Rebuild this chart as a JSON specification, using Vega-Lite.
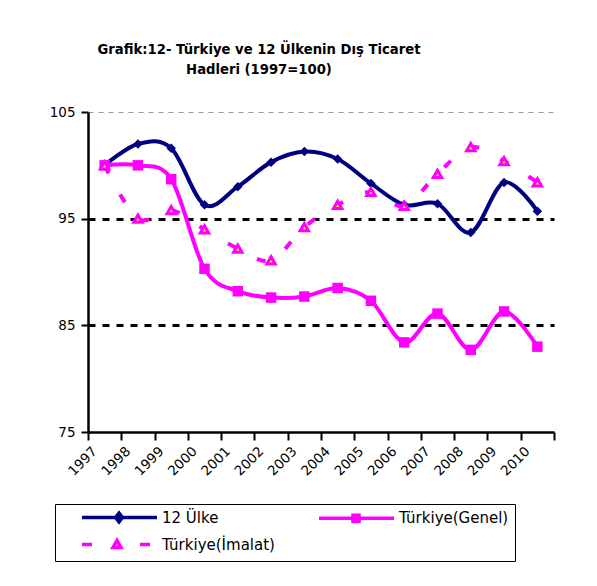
{
  "$schema": "https://vega.github.io/schema/vega-lite/v6.json",
  "width": 466,
  "height": 320,
  "autosize": {"type": "none"},
  "padding": {"left": 88, "top": 112, "right": 43, "bottom": 154},
  "background": "white",
  "config": {
    "view": {"stroke": null},
    "font": "DejaVu Sans"
  },
  "title": {
    "text": ["Grafik:12- Türkiye ve 12 Ülkenin Dış Ticaret", "Hadleri (1997=100)"],
    "font": "DejaVu Sans",
    "fontSize": 13.2,
    "fontWeight": "bold",
    "color": "black",
    "anchor": "middle",
    "frame": "group",
    "dx": -62,
    "offset": 28,
    "lineHeight": 20
  },
  "data": {
    "values": [
      {"year": "1997", "series": "12 Ülke", "value": 100.0},
      {"year": "1998", "series": "12 Ülke", "value": 102.0},
      {"year": "1999", "series": "12 Ülke", "value": 101.6},
      {"year": "2000", "series": "12 Ülke", "value": 96.3},
      {"year": "2001", "series": "12 Ülke", "value": 98.0},
      {"year": "2002", "series": "12 Ülke", "value": 100.3},
      {"year": "2003", "series": "12 Ülke", "value": 101.3},
      {"year": "2004", "series": "12 Ülke", "value": 100.6},
      {"year": "2005", "series": "12 Ülke", "value": 98.3},
      {"year": "2006", "series": "12 Ülke", "value": 96.3},
      {"year": "2007", "series": "12 Ülke", "value": 96.4},
      {"year": "2008", "series": "12 Ülke", "value": 93.7},
      {"year": "2009", "series": "12 Ülke", "value": 98.4},
      {"year": "2010", "series": "12 Ülke", "value": 95.7},
      {"year": "1997", "series": "Türkiye(Genel)", "value": 100.0},
      {"year": "1998", "series": "Türkiye(Genel)", "value": 100.0},
      {"year": "1999", "series": "Türkiye(Genel)", "value": 98.7},
      {"year": "2000", "series": "Türkiye(Genel)", "value": 90.3},
      {"year": "2001", "series": "Türkiye(Genel)", "value": 88.2},
      {"year": "2002", "series": "Türkiye(Genel)", "value": 87.6},
      {"year": "2003", "series": "Türkiye(Genel)", "value": 87.7},
      {"year": "2004", "series": "Türkiye(Genel)", "value": 88.5},
      {"year": "2005", "series": "Türkiye(Genel)", "value": 87.3},
      {"year": "2006", "series": "Türkiye(Genel)", "value": 83.4},
      {"year": "2007", "series": "Türkiye(Genel)", "value": 86.1},
      {"year": "2008", "series": "Türkiye(Genel)", "value": 82.7},
      {"year": "2009", "series": "Türkiye(Genel)", "value": 86.3},
      {"year": "2010", "series": "Türkiye(Genel)", "value": 83.0},
      {"year": "1997", "series": "Türkiye(İmalat)", "value": 100.0},
      {"year": "1998", "series": "Türkiye(İmalat)", "value": 95.0},
      {"year": "1999", "series": "Türkiye(İmalat)", "value": 95.8},
      {"year": "2000", "series": "Türkiye(İmalat)", "value": 94.0},
      {"year": "2001", "series": "Türkiye(İmalat)", "value": 92.2},
      {"year": "2002", "series": "Türkiye(İmalat)", "value": 91.1},
      {"year": "2003", "series": "Türkiye(İmalat)", "value": 94.2},
      {"year": "2004", "series": "Türkiye(İmalat)", "value": 96.3},
      {"year": "2005", "series": "Türkiye(İmalat)", "value": 97.5},
      {"year": "2006", "series": "Türkiye(İmalat)", "value": 96.2},
      {"year": "2007", "series": "Türkiye(İmalat)", "value": 99.2},
      {"year": "2008", "series": "Türkiye(İmalat)", "value": 101.7},
      {"year": "2009", "series": "Türkiye(İmalat)", "value": 100.4},
      {"year": "2010", "series": "Türkiye(İmalat)", "value": 98.4}
    ]
  },
  "encoding": {
    "x": {
      "field": "year",
      "type": "ordinal",
      "bandPosition": 0.5,
      "scale": {"type": "band", "paddingInner": 0, "paddingOuter": 0},
      "axis": {
        "title": null,
        "labelAngle": -45,
        "labelAlign": "right",
        "labelBaseline": "top",
        "labelOffset": -15,
        "labelPadding": 4,
        "labelFontSize": 13.5,
        "labelColor": "black",
        "labelFont": "DejaVu Sans",
        "tickBand": "extent",
        "tickSize": 8,
        "tickWidth": 2,
        "tickColor": "black",
        "domainWidth": 2.5,
        "domainColor": "black",
        "grid": false
      }
    },
    "y": {
      "field": "value",
      "type": "quantitative",
      "scale": {"domain": [75, 105], "nice": false, "zero": false},
      "axis": {
        "title": null,
        "values": [75, 85, 95, 105],
        "labelFontSize": 13.5,
        "labelColor": "black",
        "labelFont": "DejaVu Sans",
        "labelPadding": 6,
        "tickSize": 7,
        "tickWidth": 2,
        "tickColor": "black",
        "domainWidth": 2.5,
        "domainColor": "black",
        "grid": true,
        "gridColor": {"condition": {"test": "datum.value == 105", "value": "#999999"}, "value": "black"},
        "gridWidth": {"condition": {"test": "datum.value == 105", "value": 1}, "value": 3},
        "gridDash": {"condition": {"test": "datum.value == 105", "value": [5, 5]}, "value": [7, 7]},
        "gridOpacity": {"condition": {"test": "datum.value == 75", "value": 0}, "value": 1}
      }
    }
  },
  "layer": [
    {
      "transform": [{"filter": "datum.series == '12 Ülke'"}],
      "mark": {"type": "line", "color": "#000080", "strokeWidth": 4, "interpolate": "cardinal"}
    },
    {
      "transform": [{"filter": "datum.series == '12 Ülke'"}],
      "mark": {"type": "point", "shape": "diamond", "filled": true, "color": "#000080", "opacity": 1, "size": 90}
    },
    {
      "transform": [{"filter": "datum.series == 'Türkiye(Genel)'"}],
      "mark": {"type": "line", "color": "#FF00FF", "strokeWidth": 4, "interpolate": "cardinal"}
    },
    {
      "transform": [{"filter": "datum.series == 'Türkiye(Genel)'"}],
      "mark": {"type": "point", "shape": "square", "filled": true, "color": "#FF00FF", "opacity": 1, "size": 110}
    },
    {
      "transform": [{"filter": "datum.series == 'Türkiye(İmalat)'"}],
      "mark": {"type": "line", "color": "#FF00FF", "strokeWidth": 4, "strokeDash": [9, 24], "interpolate": "cardinal"}
    },
    {
      "transform": [{"filter": "datum.series == 'Türkiye(İmalat)'"}],
      "mark": {"type": "point", "shape": "triangle-up", "filled": true, "fill": "#FFFF00", "stroke": "#FF00FF", "strokeWidth": 3, "opacity": 1, "size": 70}
    },
    {
      "transform": [{"filter": "datum.series == 'none'"}],
      "mark": {"type": "point", "filled": true, "opacity": 1, "size": 100, "strokeWidth": 3},
      "encoding": {
        "shape": {
          "field": "series",
          "type": "nominal",
          "scale": {
            "domain": ["12 Ülke", "Türkiye(Genel)", "Türkiye(İmalat)"],
            "range": [
              "M-1.3,0H13.7M5.4,0L6.1,-0.9L6.8,0L6.1,0.9Z",
              "M-1.3,0H13.7M5.5,-0.6H6.7V0.6H5.5Z",
              "M-1.3,0H0.7M10.3,0H12.3M5.7,-0.8L6.5,0.6L4.9,0.6Z"
            ]
          },
          "legend": {
            "orient": "none",
            "legendX": -33,
            "legendY": 392,
            "columns": 2,
            "direction": "horizontal",
            "title": " ",
            "titleOrient": "left",
            "titlePadding": 20,
            "strokeColor": "black",
            "padding": 6,
            "columnPadding": 37,
            "rowPadding": 4,
            "labelFontSize": 15,
            "labelFont": "DejaVu Sans",
            "labelColor": "black",
            "labelOffset": 66,
            "labelLimit": 250,
            "symbolSize": 100,
            "symbolStrokeWidth": 3.5,
            "symbolOpacity": 1,
            "encode": {"legend": {"update": {"strokeWidth": {"value": 2}}}}
          }
        },
        "fill": {
          "field": "series",
          "type": "nominal",
          "scale": {
            "domain": ["12 Ülke", "Türkiye(Genel)", "Türkiye(İmalat)"],
            "range": ["#000080", "#FF00FF", "#FFFF00"]
          }
        },
        "stroke": {
          "field": "series",
          "type": "nominal",
          "scale": {
            "domain": ["12 Ülke", "Türkiye(Genel)", "Türkiye(İmalat)"],
            "range": ["#000080", "#FF00FF", "#FF00FF"]
          }
        }
      }
    }
  ]
}
